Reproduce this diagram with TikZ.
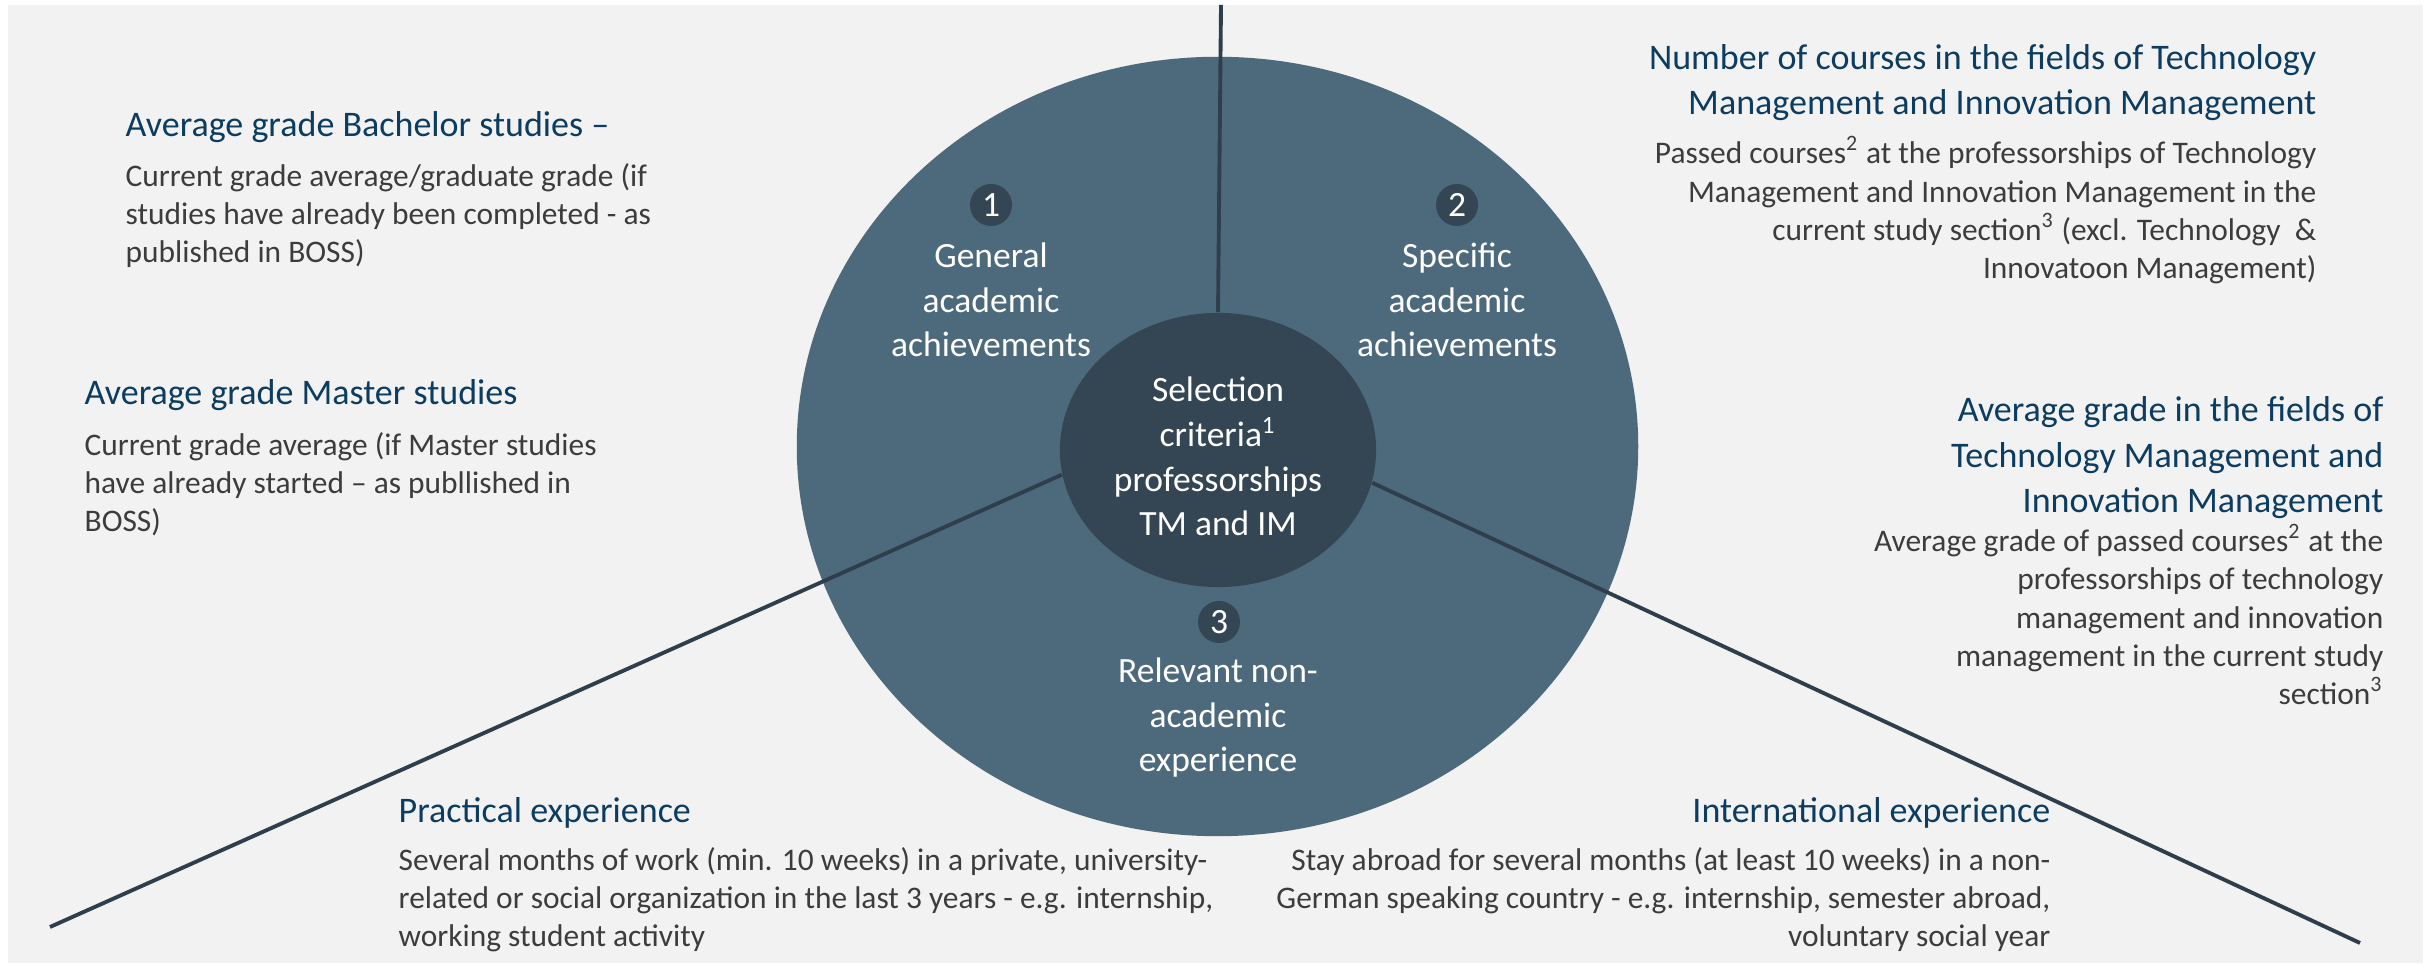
\documentclass[tikz,border=0pt]{standalone}
\usepackage{fontspec}
\setmainfont{Carlito}
\usetikzlibrary{shapes.geometric}

\definecolor{panelgray}{HTML}{F2F2F2}
\definecolor{ringblue}{HTML}{4D6A7D}
\definecolor{hubblue}{HTML}{344654}
\definecolor{spokeblue}{HTML}{2F3E4C}
\definecolor{headblue}{HTML}{0C3C5F}
\definecolor{bodygray}{HTML}{3C3C3C}

\tikzset{
  heading/.style={inner sep=0pt, text=headblue, font=\fontsize{10.24pt}{13pt}\selectfont},
  bodytext/.style={inner sep=0pt, text=bodygray, font=\fontsize{8.93pt}{10.9pt}\selectfont},
  ringtext/.style={inner sep=0pt, text=white, align=center, font=\fontsize{10.1pt}{12.72pt}\selectfont},
  badge/.style={circle, fill=hubblue, inner sep=0pt, minimum size=0.42cm, text=white, font=\fontsize{10.1pt}{12pt}\selectfont},
  spoke/.style={draw=spokeblue, line width=1.1pt},
}

\begin{document}
\begin{tikzpicture}[x=0.01cm, y=-0.01cm]
    % Canvas
    \useasboundingbox (0,0) rectangle (2433,965);
    \fill[white] (0,0) rectangle (2433,965);
    \fill[panelgray] (8,5) rectangle (2423,963);

    % Rings
    \node[ellipse, fill=ringblue, inner sep=0pt, minimum width=8.41cm, minimum height=7.79cm] (ring) at (1217.5,446.5) {};
    \node[ellipse, fill=hubblue, inner sep=0pt, minimum width=3.16cm, minimum height=2.74cm] (hub) at (1218,450) {};

    % Spokes
    \coordinate (topEnd) at (1221,5);
    \coordinate (leftEnd) at (50,927);
    \coordinate (rightEnd) at (2360,943);
    \draw[spoke] (hub.north) -- (topEnd);
    \draw[spoke] (hub.189) -- (leftEnd);
    \draw[spoke] (hub.348) -- (rightEnd);

    % Segments (multi-line nodes sit on their last baseline)
    \node[badge] (b1) at (991,205) {1};
    \node[badge] (b2) at (1457,205) {2};
    \node[badge] (b3) at (1219,622) {3};
    \node[ringtext, anchor=base] (general) at (991,357) {General\\academic\\achievements};
    \node[ringtext, anchor=base] (specific) at (1457,357) {Specific\\academic\\achievements};
    \node[ringtext, anchor=base] (criteria) at (1218,536) {Selection\\criteria\textsuperscript{1}\\professorships\\TM and IM};
    \node[ringtext, anchor=base] (nonacad) at (1218,772) {Relevant non-\\academic\\experience};

    % Left criteria
    \node[heading, anchor=base west] (bachHead) at (125,137) {Average grade Bachelor studies --};
    \node[bodytext, align=left, anchor=base west] (bachText) at (125,263) {Current grade average/graduate grade (if\\studies have already been completed - as\\published in BOSS)};
    \node[heading, anchor=base west] (masterHead) at (84,405) {Average grade Master studies};
    \node[bodytext, align=left, anchor=base west] (masterText) at (84,532) {Current grade average (if Master studies\\have already started -- as publlished in\\BOSS)};

    % Right criteria
    \node[heading, align=right, anchor=base east] (countHead) at (2317,115) {Number of courses in the fields of Technology\\Management and Innovation Management};
    \node[bodytext, align=right, anchor=base east] (countText) at (2317,279) {Passed courses\textsuperscript{2} at the professorships of Technology\\Management and Innovation Management in the\\current study section\textsuperscript{3} (excl. Technology~ \&\\Innovatoon Management)};
    \node[heading, align=right, anchor=base east] (gradeHead) at (2384,513) {Average grade in the fields of\\Technology Management and\\Innovation Management};
    \node[bodytext, align=right, anchor=base east] (gradeText) at (2384,705) {Average grade of passed courses\textsuperscript{2} at the\\professorships of technology\\management and innovation\\management in the current study\\section\textsuperscript{3}};

    % Experience
    \node[heading, anchor=base west] (practHead) at (398,823) {Practical experience};
    \node[bodytext, align=left, anchor=base west] (practText) at (398,947) {Several months of work (min. 10 weeks) in a private, university-\\related or social organization in the last 3 years - e.g. internship,\\working student activity};
    \node[heading, anchor=base east] (interHead) at (2051,823) {International experience};
    \node[bodytext, align=right, anchor=base east] (interText) at (2051,947) {Stay abroad for several months (at least 10 weeks) in a non-\\German speaking country - e.g. internship, semester abroad,\\voluntary social year};
\end{tikzpicture}
\end{document}
